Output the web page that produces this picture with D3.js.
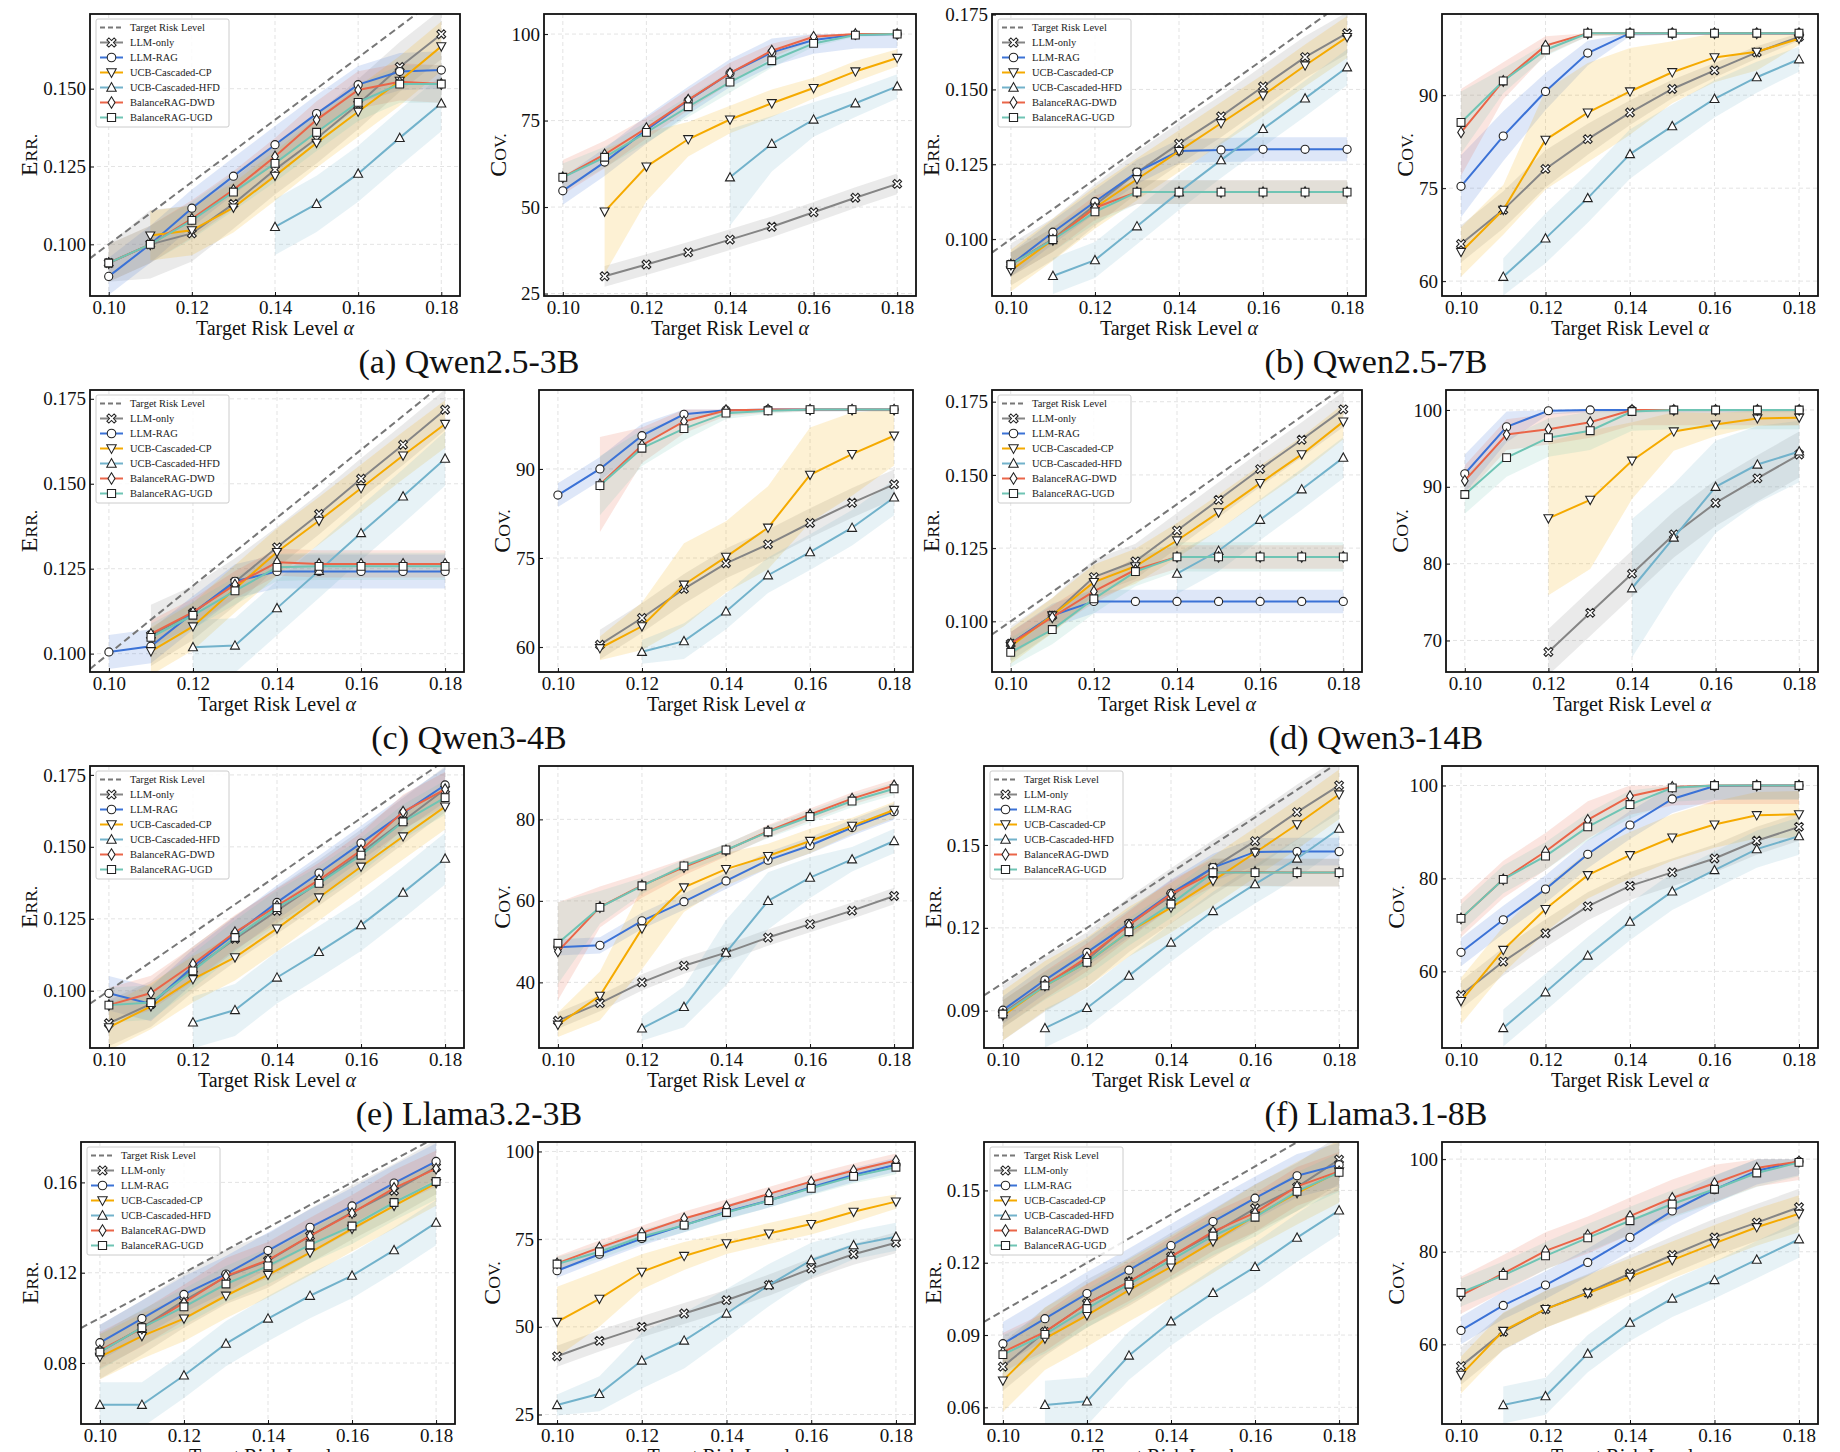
<!DOCTYPE html>
<html>
<head>
<meta charset="utf-8">
<script src="https://cdn.jsdelivr.net/npm/d3@7"></script>
<style>
  body { margin: 0; background: #fff; }
  svg { display: block; }
  text { font-family: "Liberation Serif", "DejaVu Serif", serif; }
</style>
</head>
<body>
<div id="chart"></div>
<script>

// ---- data -------------------------------------------------------------

const alphas = [0.10, 0.11, 0.12, 0.13, 0.14, 0.15, 0.16, 0.17, 0.18];
const xTicks = [0.10, 0.12, 0.14, 0.16, 0.18];

const seriesNames = ["LLM-only", "LLM-RAG", "UCB-Cascaded-CP", "UCB-Cascaded-HFD", "BalanceRAG-DWD", "BalanceRAG-UGD"];
const seriesColors = ["#858585", "#3b72d6", "#f5aa00", "#72b2cb", "#ea6548", "#6fc4b4"];
const seriesMarkers = ["X", "o", "v", "^", "d", "s"];

const modelTitles = ["(a) Qwen2.5-3B", "(b) Qwen2.5-7B", "(c) Qwen3-4B", "(d) Qwen3-14B",
                     "(e) Llama3.2-3B", "(f) Llama3.1-8B", "", ""];

// rows follow seriesNames order; null = no point
const errA = [
  [0.094, 0.100, 0.1035, 0.113, 0.124, 0.134, 0.145, 0.157, 0.1675],
  [0.0897, 0.100, 0.1116, 0.1219, 0.132, 0.142, 0.1513, 0.1555, 0.156],
  [null, 0.1028, 0.1045, 0.1118, 0.122, 0.1326, 0.1426, 0.1525, 0.1636],
  [null, null, null, null, 0.1056, 0.113, 0.1227, 0.1342, 0.1453],
  [0.094, 0.100, 0.1082, 0.1175, 0.1282, 0.140, 0.1496, 0.1522, 0.1515],
  [0.094, 0.100, 0.1077, 0.1168, 0.126, 0.136, 0.1456, 0.1515, 0.1515]
];
const errBandA = [[0.006, 0.011, 0.009, 0.008, 0.008, 0.008, 0.008, 0.008, 0.008], 0.006, 0.008, 0.009, 0.006, 0.006];
const covA = [
  [null, 30, 33.4, 36.9, 40.6, 44.3, 48.5, 52.7, 56.7],
  [54.7, 63, 72.3, 80.8, 88.7, 94.7, 98.3, 99.8, 100],
  [null, 48.7, 61.7, 69.6, 75.3, 80, 84.4, 89.2, 93.1],
  [null, null, null, null, 58.6, 68.3, 75.3, 80, 84.9],
  [58.6, 65.2, 72.8, 81, 88.7, 95.2, 99.2, 100, 100],
  [58.6, 64.4, 71.6, 79, 86.1, 92.3, 97.3, 99.7, 100]
];
const covBandA = [3, 4, [0, 18, 10, 5, 4, 4, 3, 3, 2.5], [0, 0, 0, 0, 14, 8, 5, 4, 3.5],
                  [5, 4, 3, 3, 3, 2, 1, 0.5, 0.5], [4, 3, 3, 3, 3, 2, 1, 0.5, 0.5]];

const errB = [
  [0.0915, 0.100, 0.1114, 0.1222, 0.1319, 0.141, 0.151, 0.1608, 0.1688],
  [0.0915, 0.1023, 0.1125, 0.1224, 0.1294, 0.1298, 0.130, 0.130, 0.130],
  [0.0895, 0.0998, 0.1105, 0.120, 0.1294, 0.1387, 0.148, 0.158, 0.1675],
  [null, 0.0877, 0.093, 0.1043, 0.1157, 0.1264, 0.1368, 0.147, 0.1574],
  [0.0915, 0.0998, 0.1105, 0.1157, 0.1157, 0.1157, 0.1157, 0.1157, 0.1157],
  [0.0915, 0.0998, 0.1091, 0.1157, 0.1157, 0.1157, 0.1157, 0.1157, 0.1157]
];
const errBandB = [0.007, 0.004, 0.007, 0.006, 0.004, 0.004];
const covB = [
  [66, 71.5, 78.1, 82.9, 87.2, 91, 94, 96.9, 99.4],
  [75.3, 83.4, 90.6, 96.8, 100, 100, 100, 100, 100],
  [64.7, 71.5, 82.8, 87.2, 90.6, 93.7, 96.1, 97, 99.1],
  [null, 60.7, 66.9, 73.4, 80.5, 85, 89.4, 92.9, 95.8],
  [84, 92.3, 98, 100, 100, 100, 100, 100, 100],
  [85.6, 92.3, 97.3, 100, 100, 100, 100, 100, 100]
];
const covBandB = [[3, 3, 3, 2.5, 2, 1.5, 1.2, 1, 0.6], [5, 4, 3, 2, 0.5, 0.3, 0.3, 0.3, 0.3],
                  [4, 4, 8, 8, 7, 5, 4, 3, 1], [0, 3, 4, 4, 4, 3.5, 3, 2.5, 2],
                  [7, 3, 1.5, 0.5, 0.3, 0.3, 0.3, 0.3, 0.3], [5, 2, 1, 0.5, 0.3, 0.3, 0.3, 0.3, 0.3]];

const errC = [
  [null, 0.1054, 0.112, 0.1211, 0.1313, 0.1411, 0.1515, 0.1615, 0.1718],
  [0.1005, 0.1022, 0.112, 0.1213, 0.1242, 0.1242, 0.1242, 0.1242, 0.1242],
  [null, 0.1007, 0.108, 0.1191, 0.1299, 0.1391, 0.1487, 0.1583, 0.1676],
  [null, null, 0.1019, 0.1024, 0.1134, 0.1244, 0.1355, 0.1463, 0.1574],
  [null, 0.1058, 0.1122, 0.1203, 0.1269, 0.1264, 0.1264, 0.1264, 0.1264],
  [null, 0.1048, 0.1113, 0.1185, 0.1254, 0.1257, 0.1257, 0.1257, 0.1257]
];
const errBandC = [[0, 0.009, 0.008, 0.007, 0.006, 0.006, 0.006, 0.006, 0.006], 0.005, 0.007, 0.008, 0.004, 0.004];
const covC = [
  [null, 60.4, 64.9, 69.8, 74.1, 77.3, 80.9, 84.3, 87.4],
  [85.6, 90, 95.6, 99.2, 99.9, 100, 100, 100, 100],
  [null, 59.8, 63.5, 70.5, 75.2, 80.1, 89, 92.5, 95.6],
  [null, null, 59.2, 61, 66, 72.1, 76, 80.1, 85.2],
  [null, 87.4, 94, 98, 99.9, 100, 100, 100, 100],
  [null, 87.2, 93.5, 96.8, 99.4, 99.8, 100, 100, 100]
];
const covBandC = [2.5, [2, 2, 2, 1, 0.5, 0.3, 0.3, 0.3, 0.3], [0, 2, 4, 7, 6, 7, 8, 7, 5],
                  [0, 0, 2, 3, 3, 3, 3, 3, 3], [0, 8, 3, 2, 1, 0.5, 0.3, 0.3, 0.3], [0, 5, 3, 2, 1, 0.5, 0.3, 0.3, 0.3]];

const errD = [
  [0.0924, 0.102, 0.1151, 0.1205, 0.131, 0.1415, 0.152, 0.162, 0.1724],
  [0.0924, 0.102, 0.1068, 0.1068, 0.1068, 0.1068, 0.1068, 0.1068, 0.1068],
  [0.0915, 0.102, 0.1134, 0.1188, 0.1276, 0.1372, 0.1472, 0.157, 0.1682],
  [null, null, null, null, 0.1163, 0.1241, 0.1347, 0.1451, 0.1559],
  [0.0924, 0.1014, 0.1102, 0.1176, 0.122, 0.122, 0.122, 0.122, 0.122],
  [0.0894, 0.0972, 0.1077, 0.117, 0.122, 0.122, 0.122, 0.122, 0.122]
];
const errBandD = [0.006, 0.004, 0.006, 0.007, 0.004, 0.005];
const covD = [
  [null, null, 68.5, 73.6, 78.7, 83.8, 87.9, 91.1, 94.2],
  [91.7, 97.8, 99.9, 100, 100, 100, 100, 100, 100],
  [null, null, 85.9, 88.3, 93.4, 97.2, 98.1, 98.9, 99],
  [null, null, null, null, 76.8, 83.4, 90, 92.9, 94.6],
  [90.8, 96.8, 97.5, 98.4, 100, 100, 100, 100, 100],
  [89, 93.8, 96.4, 97.3, 99.8, 100, 100, 100, 100]
];
const covBandD = [3, [2.5, 2, 0.5, 0.3, 0.3, 0.3, 0.3, 0.3, 0.3], [0, 0, 10, 9, 5, 2.5, 1.5, 1, 1],
                  [0, 0, 0, 0, 9, 7, 6, 5, 4], 2, 2.5];

const errE = [
  [0.0887, 0.0954, 0.1075, 0.118, 0.1278, 0.1376, 0.148, 0.159, 0.170],
  [0.0991, 0.0954, 0.1084, 0.1197, 0.1307, 0.1409, 0.1513, 0.1617, 0.1715],
  [0.0873, 0.0946, 0.104, 0.1116, 0.1216, 0.1324, 0.1431, 0.1536, 0.164],
  [null, null, 0.089, 0.0933, 0.1046, 0.1135, 0.1228, 0.1341, 0.1459],
  [0.095, 0.0992, 0.1093, 0.1203, 0.1295, 0.1385, 0.1488, 0.1622, 0.170],
  [0.095, 0.0959, 0.1069, 0.1185, 0.1289, 0.1373, 0.1471, 0.1587, 0.1671]
];
const errBandE = [0.008, 0.006, 0.008, 0.009, 0.006, 0.006];
const covE = [
  [30.6, 34.9, 40, 44.1, 47.3, 51, 54.3, 57.6, 61.2],
  [48.6, 49.1, 55.1, 59.8, 64.9, 70, 73.6, 78, 81.9],
  [29.6, 36.7, 53.2, 63.3, 67.8, 71, 74.7, 78.4, 82.3],
  [null, null, 28.7, 34, 47.3, 60, 65.7, 70.2, 74.7],
  [47.6, 58.5, 63.8, 68.3, 72.4, 77.1, 81.2, 85.1, 88.3],
  [49.6, 58.4, 63.7, 68.6, 72.5, 76.9, 80.7, 84.5, 87.5]
];
const covBandE = [2, 2, [3, 6, 10, 6, 4, 3, 3, 2, 2], [0, 0, 3, 5, 8, 7, 5, 3, 3],
                  [12, 5, 3, 2, 1.5, 1.5, 1.5, 1.5, 1.5], [10, 4, 2, 1.5, 1.5, 1.5, 1.5, 1.5, 1.5]];

const errF = [
  [0.0892, 0.0996, 0.1084, 0.1213, 0.1316, 0.1418, 0.1514, 0.1619, 0.1716],
  [0.0902, 0.1011, 0.1111, 0.1216, 0.1325, 0.1418, 0.1475, 0.1476, 0.1476],
  [0.0882, 0.099, 0.1075, 0.1186, 0.1273, 0.137, 0.1472, 0.1575, 0.1683],
  [null, 0.0837, 0.091, 0.1027, 0.1147, 0.1261, 0.1358, 0.1451, 0.1559],
  [0.0888, 0.0993, 0.1093, 0.121, 0.1322, 0.14, 0.1402, 0.14, 0.14],
  [0.0888, 0.099, 0.1075, 0.1186, 0.1286, 0.14, 0.14, 0.14, 0.14]
];
const errBandF = [0.01, 0.005, 0.009, 0.007, 0.005, 0.005];
const covF = [
  [54.9, 62.1, 68.2, 74, 78.4, 81.3, 84.3, 88.1, 91.1],
  [64.1, 71.1, 77.7, 85.2, 91.5, 97.1, 99.9, 100, 100],
  [53.6, 64.6, 73.4, 80.7, 85, 88.8, 91.6, 93.6, 93.8],
  [null, 47.8, 55.5, 63.4, 70.7, 77.2, 81.8, 86.3, 89.1],
  [71.4, 79.8, 85.8, 92.6, 97.7, 99.7, 100, 100, 100],
  [71.4, 79.8, 84.8, 91.1, 95.9, 99.5, 100, 100, 100]
];
const covBandF = [3, 3, 5, 4, 4, 3];

const errG = [
  [0.0849, 0.0957, 0.1076, 0.1182, 0.1253, 0.1363, 0.1467, 0.1563, 0.1668],
  [0.089, 0.0997, 0.1104, 0.1194, 0.1298, 0.1401, 0.1496, 0.1597, 0.1693],
  [0.0827, 0.0919, 0.0997, 0.1098, 0.119, 0.1289, 0.1394, 0.1496, 0.1597],
  [0.0615, 0.0615, 0.0745, 0.0886, 0.0997, 0.1098, 0.1187, 0.13, 0.1422],
  [0.0856, 0.0953, 0.1067, 0.1185, 0.1256, 0.1363, 0.1464, 0.1575, 0.1661],
  [0.0849, 0.0957, 0.1049, 0.115, 0.123, 0.1323, 0.1407, 0.1511, 0.1604]
];
const errBandG = [0.012, 0.008, 0.01, 0.01, 0.008, 0.008];
const covG = [
  [41.6, 46, 50, 53.8, 57.6, 61.9, 66.6, 70.7, 74],
  [66, 70.7, 75.2, 79, 82.8, 86, 89.8, 93.3, 96.2],
  [51.4, 58, 65.7, 70.2, 73.8, 76.6, 79.3, 82.8, 85.7],
  [27.7, 30.9, 40.4, 46.1, 53.8, 61.9, 69, 73.3, 75.7],
  [68.1, 72.6, 76.8, 80.9, 84.3, 87.9, 91.4, 94.6, 97.4],
  [67.9, 71.4, 75.7, 79, 82.6, 86, 89.5, 92.9, 95.5]
];
const covBandG = [3, 2, [10, 8, 5, 4, 3, 3, 3, 3, 2], [3, 5, 8, 8, 7, 6, 5, 4, 4], 2, 2];

const errH = [
  [0.0769, 0.0913, 0.1031, 0.1121, 0.1225, 0.1322, 0.1426, 0.1514, 0.1628],
  [0.0864, 0.0968, 0.1072, 0.1169, 0.1271, 0.1371, 0.1468, 0.1561, 0.1607],
  [0.0711, 0.0885, 0.0982, 0.1086, 0.1183, 0.1288, 0.1394, 0.1489, 0.1579],
  [null, 0.061, 0.0625, 0.0815, 0.0957, 0.1075, 0.1183, 0.1304, 0.1417],
  [0.0829, 0.0913, 0.1031, 0.1121, 0.1225, 0.1329, 0.1408, 0.1517, 0.1579],
  [0.0819, 0.0903, 0.101, 0.1111, 0.1211, 0.1311, 0.1389, 0.1496, 0.1575]
];
const errBandH = [0.01, 0.009, 0.013, 0.01, 0.008, 0.008];
const covH = [
  [55.3, 62.7, 67.6, 71.2, 75.3, 79.3, 83.1, 86.3, 89.6],
  [63, 68.4, 72.8, 77.7, 83.1, 88.8, 93.4, 97.5, 99.5],
  [53.4, 62.9, 67.6, 71, 74.6, 78.2, 81.8, 85.3, 88.2],
  [null, 46.9, 48.8, 58, 64.7, 69.9, 73.9, 78.3, 82.7],
  [70.6, 75.3, 80.2, 83.6, 87.7, 91.6, 94.8, 98.1, 99.5],
  [71.2, 74.9, 79.1, 83, 86.7, 90.3, 93.5, 97, 99.3]
];
const covBandH = [4, 3, 4, 4, 4, 3];

// axis ranges and tick labels
const errDomains = [[0.0834, 0.174], [0.081, 0.1752], [0.0946, 0.1776], [0.0827, 0.179],
                    [0.0801, 0.1781], [0.0765, 0.1786], [0.053, 0.1779], [0.0531, 0.1701]];
const errTicks = [[0.100, 0.125, 0.150], [0.100, 0.125, 0.150, 0.175], [0.100, 0.125, 0.150, 0.175],
                  [0.100, 0.125, 0.150, 0.175], [0.100, 0.125, 0.150, 0.175], [0.09, 0.12, 0.15],
                  [0.08, 0.12, 0.16], [0.06, 0.09, 0.12, 0.15]];
const errTickFormats = [".3f", ".3f", ".3f", ".3f", ".3f", ".2f", ".2f", ".2f"];
const covDomains = [[24.3, 105.8], [57.6, 103.1], [55.8, 103.3], [65.9, 102.6],
                    [23.9, 93.1], [43.5, 104.2], [22.3, 102.7], [42.8, 103.7]];
const covTicks = [[25, 50, 75, 100], [60, 75, 90], [60, 75, 90], [70, 80, 90, 100],
                  [40, 60, 80], [60, 80, 100], [25, 50, 75, 100], [60, 80, 100]];

const errSets = [errA, errB, errC, errD, errE, errF, errG, errH];
const errBands = [errBandA, errBandB, errBandC, errBandD, errBandE, errBandF, errBandG, errBandH];
const covSets = [covA, covB, covC, covD, covE, covF, covG, covH];
const covBands = [covBandA, covBandB, covBandC, covBandD, covBandE, covBandF, covBandG, covBandH];

// ---- layout -----------------------------------------------------------

const W = 1840, H = 1452;
const xDomain = [0.0955, 0.1845];
const rowTops = [14, 390, 766, 1142];
const frameH = 282;
const frameCols = [
  [[90, 460], [544, 916], [992, 1366], [1442, 1818]],
  [[90, 464], [539, 913], [992, 1362], [1446, 1818]],
  [[90, 464], [539, 913], [984, 1358], [1442, 1818]],
  [[81, 455], [538, 915], [984, 1358], [1442, 1818]]
];
const captionX = [469, 1376];

const svg = d3.select("#chart")
  .append("svg")
  .attr("width", W)
  .attr("height", H)
  .attr("viewBox", `0 0 ${W} ${H}`);

svg.append("rect").attr("width", W).attr("height", H).attr("fill", "white");

const spreadAt = (band, i) => Array.isArray(band) ? band[i] : band;

const markerPath = (kind) => {
  if (kind === "o") return d3.symbol(d3.symbolCircle, 52)();
  if (kind === "s") return "M-3.9,-3.9H3.9V3.9H-3.9Z";
  if (kind === "v") return "M-4.5,-3.6L4.5,-3.6L0,4.7Z";
  if (kind === "^") return "M-4.5,3.6L4.5,3.6L0,-4.7Z";
  if (kind === "d") return "M0,-5.4L3.3,0L0,5.4L-3.3,0Z";
  // filled "X"
  const a = 4.4, c = 1.9;
  return `M0,${-c}L${a - c},${-a}L${a},${-a + c}L${c},0L${a},${a - c}L${a - c},${a}` +
         `L0,${c}L${-a + c},${a}L${-a},${a - c}L${-c},0L${-a},${-a + c}L${-a + c},${-a}Z`;
};

const drawLegend = (g, left, top) => {
  const lg = g.append("g").attr("transform", `translate(${left + 6},${top + 5})`);
  lg.append("rect")
    .attr("width", 133)
    .attr("height", 108)
    .attr("rx", 2)
    .attr("fill", "white")
    .attr("fill-opacity", 0.85)
    .attr("stroke", "#cccccc")
    .attr("stroke-width", 1);

  const rows = [{ name: "Target Risk Level", target: true }]
    .concat(seriesNames.map((name, s) => ({ name, s })));

  rows.forEach((r, i) => {
    const ry = 8.5 + i * 15;
    const row = lg.append("g").attr("transform", `translate(0,${ry})`);
    if (r.target) {
      row.append("line")
        .attr("x1", 4).attr("x2", 27).attr("y1", 0).attr("y2", 0)
        .attr("stroke", "#777").attr("stroke-width", 2)
        .attr("stroke-dasharray", "5,3");
    } else {
      row.append("line")
        .attr("x1", 4).attr("x2", 27).attr("y1", 0).attr("y2", 0)
        .attr("stroke", seriesColors[r.s]).attr("stroke-width", 2);
      row.append("path")
        .attr("d", markerPath(seriesMarkers[r.s]))
        .attr("transform", "translate(15.5,0) scale(1.05)")
        .attr("fill", "white").attr("stroke", "#222").attr("stroke-width", 1);
    }
    row.append("text")
      .attr("x", 34)
      .attr("y", 3.6)
      .attr("font-size", 10.5)
      .attr("fill", "#222")
      .text(r.name);
  });
};

const drawPanel = (p) => {
  const x = d3.scaleLinear().domain(xDomain).range([p.x0, p.x1]);
  const y = d3.scaleLinear().domain(p.domain).range([p.y1, p.y0]);
  const g = svg.append("g");

  svg.append("clipPath").attr("id", p.id)
    .append("rect")
    .attr("x", p.x0).attr("y", p.y0)
    .attr("width", p.x1 - p.x0).attr("height", p.y1 - p.y0);

  // grid
  const grid = g.append("g")
    .attr("stroke", "#dcdcdc")
    .attr("stroke-width", 0.8)
    .attr("stroke-dasharray", "4,3");
  xTicks.forEach(t => grid.append("line")
    .attr("x1", x(t)).attr("x2", x(t)).attr("y1", p.y0).attr("y2", p.y1));
  p.ticks.forEach(t => grid.append("line")
    .attr("x1", p.x0).attr("x2", p.x1).attr("y1", y(t)).attr("y2", y(t)));

  const plot = g.append("g").attr("clip-path", `url(#${p.id})`);

  const seriesPts = p.values.map((vals, s) => alphas.map((a, i) => ({
    a, v: vals[i], e: spreadAt(p.bands[s], i)
  })));

  // spread bands
  seriesPts.forEach((pts, s) => {
    const area = d3.area()
      .defined(d => d.v !== null)
      .x(d => x(d.a))
      .y0(d => y(d.v - d.e))
      .y1(d => y(p.kind === "cov" ? Math.min(100, d.v + d.e) : d.v + d.e));
    plot.append("path")
      .datum(pts)
      .attr("d", area)
      .attr("fill", seriesColors[s])
      .attr("fill-opacity", 0.17);
  });

  // target risk level y = alpha
  if (p.kind === "err") {
    plot.append("line")
      .attr("x1", x(xDomain[0])).attr("y1", y(xDomain[0]))
      .attr("x2", x(xDomain[1])).attr("y2", y(xDomain[1]))
      .attr("stroke", "#777")
      .attr("stroke-width", 2)
      .attr("stroke-dasharray", "7,4");
  }

  // lines and markers
  seriesPts.forEach((pts, s) => {
    const kept = pts.filter(d => d.v !== null);
    plot.append("path")
      .datum(kept)
      .attr("d", d3.line().x(d => x(d.a)).y(d => y(d.v)))
      .attr("fill", "none")
      .attr("stroke", seriesColors[s])
      .attr("stroke-width", 2);
    plot.selectAll(null)
      .data(kept)
      .enter()
      .append("path")
      .attr("transform", d => `translate(${x(d.a)},${y(d.v)})`)
      .attr("d", markerPath(seriesMarkers[s]))
      .attr("fill", "white")
      .attr("stroke", "#222")
      .attr("stroke-width", 1.1);
  });

  // axes (ticks pointing inward)
  const xAxis = g.append("g")
    .attr("transform", `translate(0,${p.y1})`)
    .call(d3.axisBottom(x).tickValues(xTicks).tickFormat(d3.format(".2f"))
      .tickSizeInner(-4).tickSizeOuter(0).tickPadding(5));
  const yAxis = g.append("g")
    .attr("transform", `translate(${p.x0},0)`)
    .call(d3.axisLeft(y).tickValues(p.ticks).tickFormat(d3.format(p.fmt))
      .tickSizeInner(-4).tickSizeOuter(0).tickPadding(4));

  [xAxis, yAxis].forEach(ax => {
    ax.select(".domain").remove();
    ax.selectAll("line").attr("stroke", "#111").attr("stroke-width", 1);
    ax.selectAll("text")
      .attr("font-family", "'Liberation Serif', serif")
      .attr("font-size", 19)
      .attr("fill", "#111");
  });

  g.append("rect")
    .attr("x", p.x0).attr("y", p.y0)
    .attr("width", p.x1 - p.x0).attr("height", p.y1 - p.y0)
    .attr("fill", "none")
    .attr("stroke", "#111")
    .attr("stroke-width", 1.8);

  if (p.kind === "err") drawLegend(g, p.x0, p.y0);

  // axis titles
  g.append("text")
    .attr("x", (p.x0 + p.x1) / 2)
    .attr("y", p.y1 + 39)
    .attr("text-anchor", "middle")
    .attr("font-size", 20)
    .attr("fill", "#111")
    .text("Target Risk Level ")
    .append("tspan")
    .attr("font-style", "italic")
    .text("α");

  const bb = yAxis.node().getBBox();
  const labelX = p.x0 + bb.x - 6;
  const yl = g.append("text")
    .attr("transform", `translate(${labelX},${(p.y0 + p.y1) / 2}) rotate(-90)`)
    .attr("text-anchor", "middle")
    .attr("fill", "#111");
  const word = p.kind === "err" ? ["E", "RR."] : ["C", "OV."];
  yl.append("tspan").attr("font-size", 24).text(word[0]);
  yl.append("tspan").attr("font-size", 17.5).text(word[1]);
};

// ---- build every panel ------------------------------------------------

modelTitles.forEach((title, m) => {
  const row = Math.floor(m / 2);
  const half = m % 2;
  const y0 = rowTops[row], y1 = y0 + frameH;
  const errCol = frameCols[row][half * 2];
  const covCol = frameCols[row][half * 2 + 1];

  drawPanel({
    id: `clip-err-${m}`, kind: "err",
    x0: errCol[0], x1: errCol[1], y0, y1,
    values: errSets[m], bands: errBands[m],
    domain: errDomains[m], ticks: errTicks[m], fmt: errTickFormats[m]
  });
  drawPanel({
    id: `clip-cov-${m}`, kind: "cov",
    x0: covCol[0], x1: covCol[1], y0, y1,
    values: covSets[m], bands: covBands[m],
    domain: covDomains[m], ticks: covTicks[m], fmt: "d"
  });

  if (title) {
    svg.append("text")
      .attr("x", captionX[half])
      .attr("y", y0 + 359)
      .attr("text-anchor", "middle")
      .attr("font-family", "'Liberation Serif', serif")
      .attr("font-size", 34)
      .attr("fill", "#111")
      .text(title);
  }
});

</script>
</body>
</html>
